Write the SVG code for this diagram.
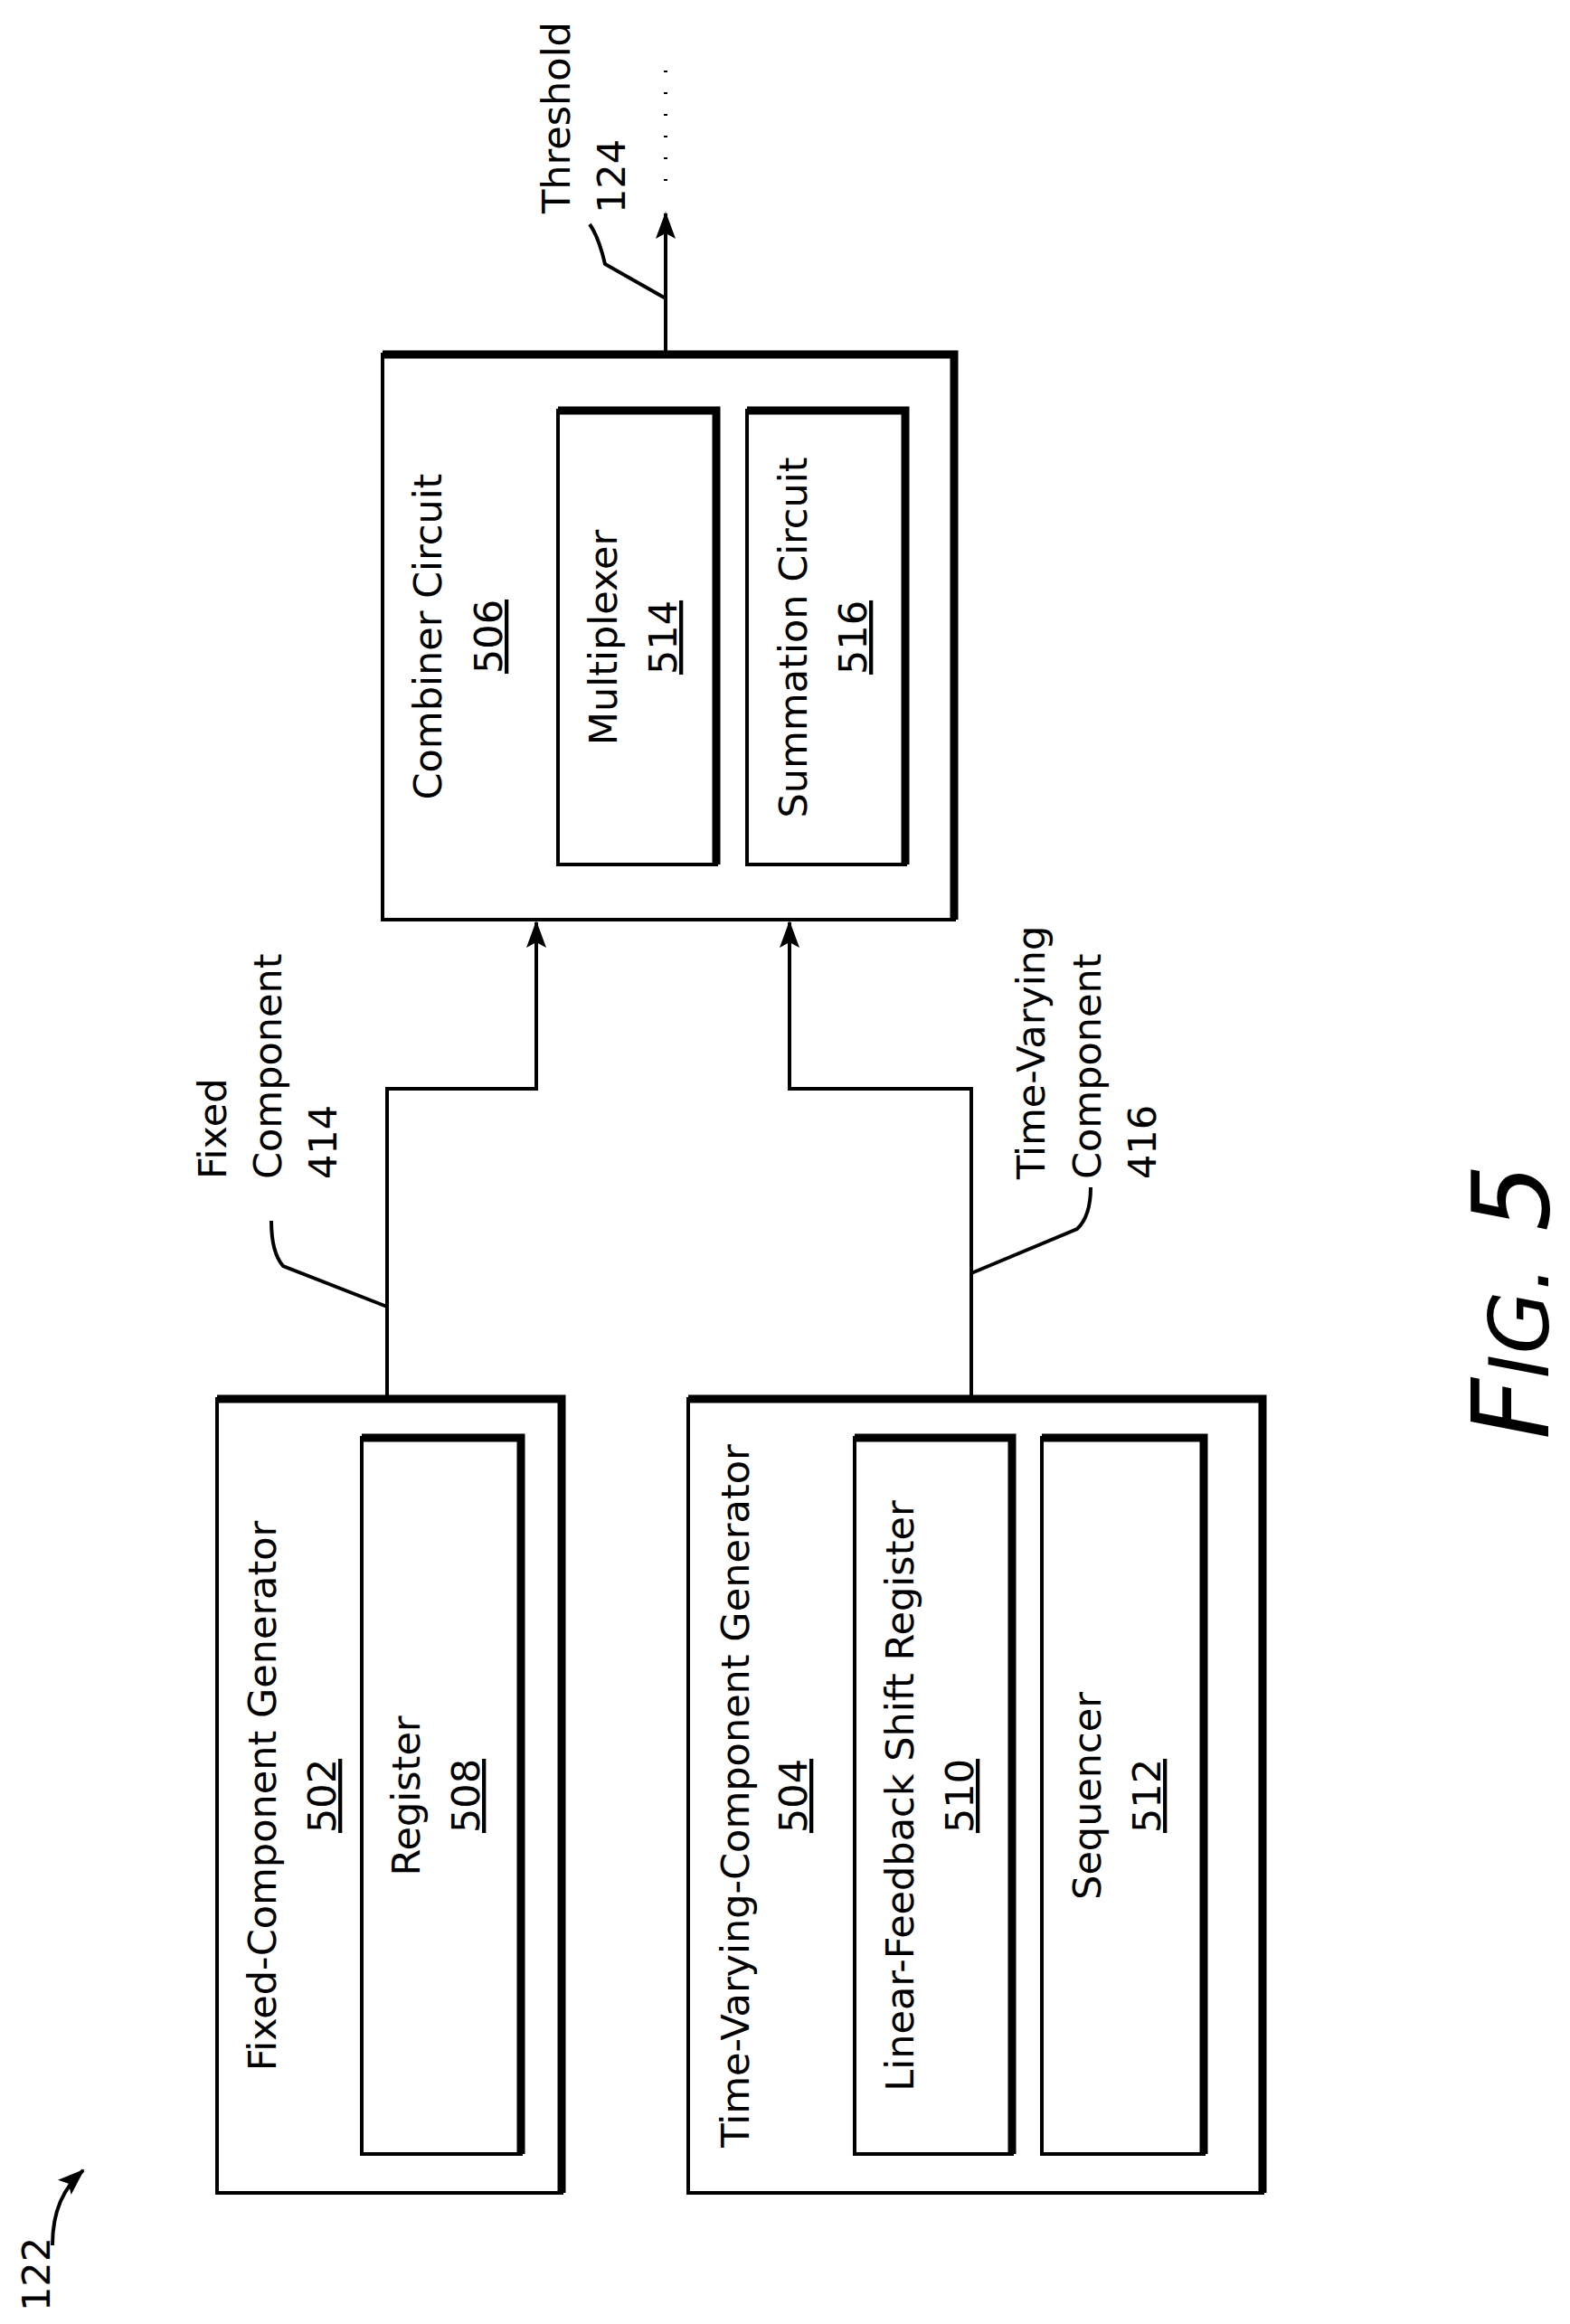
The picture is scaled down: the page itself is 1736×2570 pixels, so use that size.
<svg xmlns="http://www.w3.org/2000/svg" width="1736" height="2570" viewBox="0 0 1736 2570">
<style>
.b{fill:#fff;stroke:#000;stroke-width:4}
.t{stroke:#000;stroke-width:9;fill:none}
.c{stroke:#000;stroke-width:4;fill:none}
text{font-family:"DejaVu Sans",Verdana,sans-serif;font-size:43px;fill:#000}
.m{text-anchor:middle}
.u{text-decoration:underline}
</style>
<defs>
<marker id="a" markerWidth="30" markerHeight="22" refX="28" refY="11" orient="auto" markerUnits="userSpaceOnUse" viewBox="0 0 30 22">
<path d="M0,0 L30,11 L0,22 L6,11 z" fill="#000"/>
</marker>
</defs>
<rect width="1736" height="2570" fill="#fff"/>
<g id="connectors">
<path class="c" d="M736,392 V236" marker-end="url(#a)"/>
<path class="c" d="M736,200 V76" stroke-dasharray="2,22"/>
<path class="c" d="M652,248 Q662,262 669,292 L736,330"/>
<path class="c" d="M428,1547 V1204 H593 V1020" marker-end="url(#a)"/>
<path class="c" d="M1074,1547 V1204 H873 V1020" marker-end="url(#a)"/>
<path class="c" d="M300,1350 Q300,1385 313,1400 L428,1445"/>
<path class="c" d="M1206,1313 Q1206,1345 1191,1359 L1074,1408"/>
<path class="c" d="M58,2483 C58,2445 70,2420 92,2400" marker-end="url(#a)"/>
</g>
<g id="combiner">
<rect class="b" x="423" y="392" width="632" height="625"/>
<path class="t" d="M423,392 H1055 V1017"/>
<text class="m" transform="translate(488,704) rotate(-90)">Combiner Circuit</text>
<text class="m u" transform="translate(555,704) rotate(-90)">506</text>
</g>
<g id="multiplexer">
<rect class="b" x="617" y="454" width="175" height="502"/>
<path class="t" d="M617,454 H792 V956"/>
<text class="m" transform="translate(682,705) rotate(-90)">Multiplexer</text>
<text class="m u" transform="translate(748,705) rotate(-90)">514</text>
</g>
<g id="summation">
<rect class="b" x="826" y="454" width="175" height="502"/>
<path class="t" d="M826,454 H1001 V956"/>
<text class="m" transform="translate(892,705) rotate(-90)">Summation Circuit</text>
<text class="m u" transform="translate(958,705) rotate(-90)">516</text>
</g>
<g id="threshold-label">
<text transform="translate(630,236) rotate(-90)">Threshold</text>
<text transform="translate(691,236) rotate(-90)">124</text>
</g>
<g id="fixed-label">
<text transform="translate(250,1304) rotate(-90)">Fixed</text>
<text transform="translate(311,1304) rotate(-90)">Component</text>
<text transform="translate(372,1304) rotate(-90)">414</text>
</g>
<g id="tv-label">
<text transform="translate(1155,1304) rotate(-90)">Time-Varying</text>
<text transform="translate(1217,1304) rotate(-90)">Component</text>
<text transform="translate(1278,1304) rotate(-90)">416</text>
</g>
<g id="fixed-gen">
<rect class="b" x="240" y="1547" width="381" height="878"/>
<path class="t" d="M240,1547 H621 V2425"/>
<text class="m" transform="translate(305,1986) rotate(-90)">Fixed-Component Generator</text>
<text class="m u" transform="translate(371,1986) rotate(-90)">502</text>
</g>
<g id="register">
<rect class="b" x="400" y="1590" width="176" height="792"/>
<path class="t" d="M400,1590 H576 V2382"/>
<text class="m" transform="translate(464,1986) rotate(-90)">Register</text>
<text class="m u" transform="translate(530,1986) rotate(-90)">508</text>
</g>
<g id="tv-gen">
<rect class="b" x="761" y="1547" width="635" height="878"/>
<path class="t" d="M761,1547 H1396 V2425"/>
<text class="m" transform="translate(828,1986) rotate(-90)">Time-Varying-Component Generator</text>
<text class="m u" transform="translate(892,1986) rotate(-90)">504</text>
</g>
<g id="lfsr">
<rect class="b" x="945" y="1590" width="174" height="792"/>
<path class="t" d="M945,1590 H1119 V2382"/>
<text class="m" transform="translate(1010,1986) rotate(-90)">Linear-Feedback Shift Register</text>
<text class="m u" transform="translate(1076,1986) rotate(-90)">510</text>
</g>
<g id="sequencer">
<rect class="b" x="1152" y="1590" width="179" height="792"/>
<path class="t" d="M1152,1590 H1331 V2382"/>
<text class="m" transform="translate(1217,1986) rotate(-90)">Sequencer</text>
<text class="m u" transform="translate(1283,1986) rotate(-90)">512</text>
</g>
<g id="ref-122">
<text transform="translate(55,2556) rotate(-90)">122</text>
</g>
<g id="fig">
<text transform="translate(1712,1592) rotate(-90)" style="font-style:italic;font-size:118px"><tspan>F</tspan><tspan style="font-size:90px">IG.</tspan><tspan> 5</tspan></text>
</g>
</svg>
